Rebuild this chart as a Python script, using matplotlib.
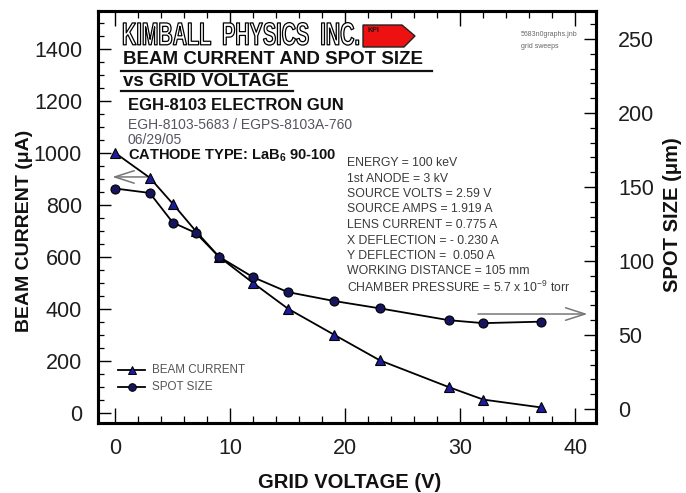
import matplotlib
matplotlib.use("Agg")
import matplotlib.pyplot as plt
from matplotlib.ticker import MultipleLocator
from matplotlib import patheffects
from matplotlib.transforms import Affine2D
from matplotlib.patches import Polygon
from matplotlib.lines import Line2D

plt.rcParams['font.family'] = ['Liberation Sans', 'DejaVu Sans']

# ---- data ----
grid_voltage = [0, 3, 5, 7, 9, 12, 15, 19, 23, 29, 32, 37]
beam_current = [1000, 905, 805, 700, 602, 500, 402, 302, 203, 100, 52, 22]
spot_size = [149, 146, 126, 119, 103, 89, 79, 73, 68, 60, 58, 59]

info_lines = [
    "ENERGY = 100 keV",
    "1st ANODE = 3 kV",
    "SOURCE VOLTS = 2.59 V",
    "SOURCE AMPS = 1.919 A",
    "LENS CURRENT = 0.775 A",
    "X DEFLECTION = - 0.230 A",
    "Y DEFLECTION =  0.050 A",
    "WORKING DISTANCE = 105 mm",
    r"CHAMBER PRESSURE = 5.7 x 10$^{\mathregular{-9}}$ torr",
]

W, H = 686, 493
fig = plt.figure(figsize=(W / 100, H / 100), dpi=100)
fig.patch.set_facecolor('white')

def fx(px):
    return px / W

def fy(py):
    return 1 - py / H

ax = fig.add_axes([fx(98), fy(423), fx(596) - fx(98), fy(11) - fy(423)])
ax2 = ax.twinx()

ax.set_xlim(-1.5, 41.8)
ax.set_ylim(-38, 1546)
ax2.set_ylim(-9.5, 269)

line_kw = dict(color='black', lw=1.3, markeredgecolor='black', markeredgewidth=0.8)
ax.plot(grid_voltage, beam_current, marker='^', markersize=6.5,
        markerfacecolor='#1c1c9a', zorder=3, **line_kw)
ax2.plot(grid_voltage, spot_size, marker='o', markersize=6.5,
         markerfacecolor='#15155e', zorder=3, **line_kw)

# axes styling
for a in (ax, ax2):
    for s in a.spines.values():
        s.set_linewidth(2.2)

ax.xaxis.set_major_locator(MultipleLocator(10))
ax.xaxis.set_minor_locator(MultipleLocator(2))
ax.yaxis.set_major_locator(MultipleLocator(200))
ax.yaxis.set_minor_locator(MultipleLocator(50))
ax2.yaxis.set_major_locator(MultipleLocator(50))
ax2.yaxis.set_minor_locator(MultipleLocator(10))

tick_color = '#1e1e1e'
ax.tick_params(axis='x', which='major', direction='in', length=11, width=1.0,
               top=True, labelsize=15.5, pad=11, labelcolor=tick_color)
ax.tick_params(axis='x', which='minor', direction='in', length=5, width=0.9, top=True)
ax.tick_params(axis='y', which='major', direction='in', length=9, width=1.0,
               labelsize=15.5, pad=11.5, labelcolor=tick_color)
ax.tick_params(axis='y', which='minor', direction='in', length=4.5, width=0.9)
ax2.tick_params(axis='y', which='major', direction='in', length=9, width=1.0,
                labelsize=15.5, pad=16, labelcolor=tick_color)
ax2.tick_params(axis='y', which='minor', direction='in', length=4.5, width=0.9)

# axis labels
fig.text(fx(350), fy(483), "GRID VOLTAGE (V)", ha='center', va='center',
         fontsize=14.5, fontweight='bold', color='#111111')
fig.text(fx(25), fy(231), "BEAM CURRENT (μA)", ha='center', va='center',
         rotation=90, fontsize=14, fontweight='bold', color='#111111')
fig.text(fx(672), fy(215), "SPOT SIZE (μm)", ha='center', va='center',
         rotation=90, fontsize=14.5, fontweight='bold', color='#111111')

# arrows indicating which axis
arrow_kw = dict(arrowstyle='->,head_length=1.4,head_width=0.45', color='#777777', lw=1.1)
ax.annotate("", xy=(-0.5, 908), xytext=(3, 908), arrowprops=arrow_kw, zorder=2)
ax.annotate("", xy=(41.3, 381), xytext=(31.3, 381), arrowprops=arrow_kw, zorder=2)

# legend (drawn manually)
leg_items = [('^', '#1c1c9a', "BEAM CURRENT", 370), ('o', '#15155e', "SPOT SIZE", 387)]
for mk, fc, lab, ypx in leg_items:
    ln = Line2D([fx(118), fx(145)], [fy(ypx), fy(ypx)], transform=fig.transFigure,
                color='black', lw=1.3)
    fig.add_artist(ln)
    mk_ln = Line2D([fx(131.5)], [fy(ypx)], transform=fig.transFigure, marker=mk,
                   markersize=6 if mk == '^' else 5.5, markerfacecolor=fc,
                   markeredgecolor='black', markeredgewidth=0.7, linestyle='none')
    fig.add_artist(mk_ln)
    fig.text(fx(152), fy(ypx), lab, ha='left', va='center', fontsize=8.4, color='#555555')

# ---- title block ----
class Stretch(patheffects.AbstractPathEffect):
    """Stretch glyphs vertically around y0 (display px) and draw outlined."""
    def __init__(self, y0, sy, lw=1.0):
        super().__init__()
        self.y0 = y0
        self.sy = sy
        self.lw = lw

    def draw_path(self, renderer, gc, tpath, affine, rgbFace=None):
        aff = affine + Affine2D().translate(0, -self.y0).scale(1, self.sy).translate(0, self.y0)
        gc0 = renderer.new_gc()
        gc0.copy_properties(gc)
        gc0.set_linewidth(self.lw)
        gc0.set_foreground('black')
        renderer.draw_path(gc0, tpath, aff, (1, 1, 1, 1))
        gc0.restore()

fig.text(fx(122), fy(36), "KIMBALL  PHYSICS  INC.", ha='left', va='center',
         fontsize=14.3, fontweight='bold', color='white',
         path_effects=[Stretch(H - 36, 1.6, lw=0.9)])

# KPI logo
logo = Polygon([[fx(363), fy(25)], [fx(402), fy(25)], [fx(415), fy(36)],
                [fx(404), fy(47)], [fx(363), fy(47)]], closed=True,
               transform=fig.transFigure, facecolor='#ee1111', edgecolor='#222222', lw=1.0)
fig.add_artist(logo)
fig.text(fx(367), fy(31), "KPI", ha='left', va='center', fontsize=5, fontweight='bold',
         color='#111111')

fig.text(fx(123), fy(60), "BEAM CURRENT AND SPOT SIZE", ha='left', va='center',
         fontsize=13.5, fontweight='bold', color='#111111')
fig.add_artist(Line2D([fx(121), fx(432)], [fy(70.5), fy(70.5)], transform=fig.transFigure,
                      color='#111111', lw=1.6))
fig.text(fx(123), fy(82), "vs GRID VOLTAGE", ha='left', va='center',
         fontsize=13.5, fontweight='bold', color='#111111')
fig.add_artist(Line2D([fx(121), fx(293)], [fy(90.5), fy(90.5)], transform=fig.transFigure,
                      color='#111111', lw=1.6))
fig.text(fx(128), fy(106), "EGH-8103 ELECTRON GUN", ha='left', va='center',
         fontsize=12, fontweight='bold', color='#111111')
fig.text(fx(128), fy(125), "EGH-8103-5683 / EGPS-8103A-760", ha='left', va='center',
         fontsize=10, color='#555560')
fig.text(fx(128), fy(139.5), "06/29/05", ha='left', va='center',
         fontsize=10, color='#555560')
fig.text(fx(128), fy(155.5), r"CATHODE TYPE: LaB$_{\mathregular{6}}$ 90-100", ha='left',
         va='center', fontsize=10.5, fontweight='bold', color='#111111')

fig.text(fx(521), fy(35), "5683n0graphs.jnb", ha='left', va='center',
         fontsize=5, color='#666666')
fig.text(fx(521), fy(46), "grid sweeps", ha='left', va='center',
         fontsize=5, color='#666666')

# info block
for i, t in enumerate(info_lines):
    fig.text(fx(347), fy(163 + i * 15.5), t, ha='left', va='center',
             fontsize=8.8, color='#3a3a3a')

fig.savefig("out.png", dpi=100)
